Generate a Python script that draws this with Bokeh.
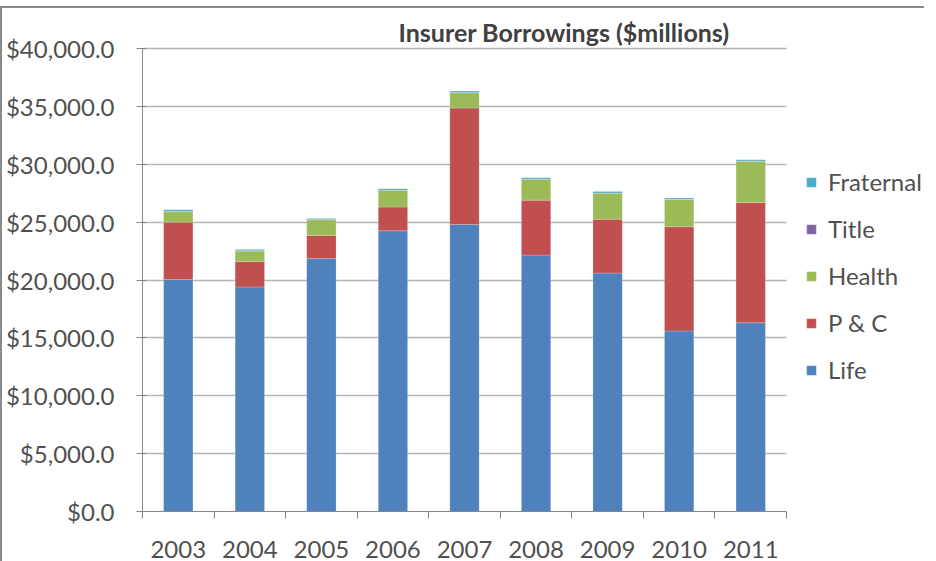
from bokeh.plotting import figure
from bokeh.models import (ColumnDataSource, Range1d, FixedTicker, NumeralTickFormatter,
                          Legend, LegendItem, Label)
from bokeh.embed import file_html
from bokeh.resources import INLINE

years = ["2003", "2004", "2005", "2006", "2007", "2008", "2009", "2010", "2011"]
life = [20050, 19400, 21850, 24250, 24800, 22150, 20600, 15600, 16300]
pc = [4950, 2200, 2000, 2050, 10050, 4750, 4650, 9000, 10400]
health = [900, 900, 1350, 1450, 1330, 1800, 2250, 2350, 3550]
title_ins = [20, 20, 20, 20, 20, 20, 20, 20, 20]
fraternal = [140, 110, 100, 120, 120, 120, 120, 120, 120]
y_ticks = [0, 5000, 10000, 15000, 20000, 25000, 30000, 35000, 40000]
Y_MAX = 40000
chart_title = "Insurer Borrowings ($millions)"

series = ["life", "pc", "health", "title", "fraternal"]
labels = ["Life", "P & C", "Health", "Title", "Fraternal"]
colors = ["#4F81BD", "#C0504D", "#9BBB59", "#8064A2", "#4BACC6"]

n = len(years)
xs = list(range(1, n + 1))
src = ColumnDataSource(dict(x=xs, life=life, pc=pc, health=health,
                            title=title_ins, fraternal=fraternal))

FONT = "Lato"
TXT = "#505050"

PLOT_W = 644      # width of the bar area in px
PLOT_H = 463      # height of the bar area in px
TOP_PAD = 40      # room above the bar area (title)
FRAME_W = 782     # frame also hosts the legend on the right
FRAME_H = PLOT_H + TOP_PAD

p = figure(frame_width=FRAME_W, frame_height=FRAME_H, output_backend="svg",
           toolbar_location=None,
           x_range=Range1d(0.5, 0.5 + n * FRAME_W / PLOT_W),
           y_range=Range1d(0, Y_MAX * FRAME_H / PLOT_H),
           min_border_left=0, min_border_top=0, min_border_bottom=50, min_border_right=0)
p.styles = {"border-top": "2px solid #8a8a8a", "border-left": "2px solid #8a8a8a",
            "position": "relative", "top": "6px"}
p.outline_line_color = None
p.background_fill_color = "white"

rs = p.vbar_stack(series, x="x", width=0.41, color=colors, source=src,
                  line_color="white", line_width=0.5, line_alpha=0.4)

# y axis
ya = p.yaxis[0]
ya.bounds = (0, Y_MAX)
ya.ticker = FixedTicker(ticks=y_ticks)
ya.formatter = NumeralTickFormatter(format="$0,0.0")
ya.axis_line_color = "#868686"
ya.major_tick_line_color = "#868686"
ya.major_tick_in = 4
ya.major_tick_out = 6
ya.minor_tick_line_color = None
ya.major_label_standoff = 22
ya.major_label_text_font = FONT
ya.major_label_text_font_size = "24px"
ya.major_label_text_color = TXT

p.ygrid.ticker = FixedTicker(ticks=y_ticks)
p.ygrid.grid_line_color = "#b5b5b5"
p.ygrid.grid_line_width = 1.6
p.ygrid.cross_bounds = (0.5, n + 0.5)
p.xgrid.grid_line_color = None

# x axis: labels at category centres, boundary ticks as minor ticks
xa = p.xaxis[0]
xa.bounds = (0.5, n + 0.5)
xa.ticker = FixedTicker(ticks=xs, minor_ticks=[i + 0.5 for i in range(n + 1)])
xa.major_label_overrides = {x: y for x, y in zip(xs, years)}
xa.axis_line_color = "#868686"
xa.major_tick_line_color = None
xa.major_tick_in = 0
xa.major_tick_out = 0
xa.minor_tick_line_color = "#868686"
xa.minor_tick_in = 0
xa.minor_tick_out = 7
xa.major_label_standoff = 22
xa.major_label_text_font = FONT
xa.major_label_text_font_size = "24px"
xa.major_label_text_color = TXT

# chart title, placed above the plotting area
px_per_x = PLOT_W / n
px_per_y = PLOT_H / Y_MAX
p.add_layout(Label(x=0.5 + 256 / px_per_x, y=Y_MAX + 17 / px_per_y, text=chart_title,
                   text_align="left", text_baseline="middle",
                   text_font=FONT, text_font_size="25px", text_font_style="bold",
                   text_color="#404040"))

items = [LegendItem(label=labels[i], renderers=[rs[i]]) for i in reversed(range(len(series)))]
legend = Legend(items=items, location=(PLOT_W + 19, 127), orientation="vertical",
                glyph_width=12, glyph_height=12, label_standoff=11,
                label_text_font=FONT, label_text_font_size="24px",
                label_text_color=TXT, label_height=24, spacing=18,
                border_line_color=None, background_fill_alpha=0,
                padding=0, margin=0)
p.add_layout(legend)

open("out.html", "w").write(file_html(p, INLINE))
